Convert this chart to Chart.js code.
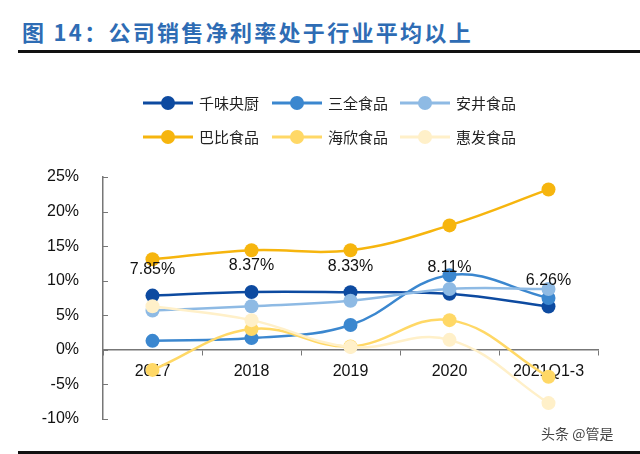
<!DOCTYPE html>
<html><head><meta charset="utf-8">
<script src="https://cdn.jsdelivr.net/npm/chart.js@4"></script>
<style>
html,body{margin:0;padding:0;background:#fff;}
#wrap{position:relative;width:640px;height:454px;overflow:hidden;background:#fff;}
#title{position:absolute;left:22px;top:16px;font:bold 22px "Noto Sans CJK SC";letter-spacing:2.3px;color:#2E6CB4;white-space:nowrap;line-height:30px;}
#rule{position:absolute;left:18px;right:0;top:50px;height:3px;background:#111;}
#bottom{position:absolute;left:18px;right:0;top:451px;height:3px;background:#111;}
#wm{position:absolute;left:541px;top:423px;font:14px "Noto Sans CJK SC";color:#444;white-space:nowrap;}
canvas{position:absolute;left:0;top:0;}
</style></head>
<body>
<div id="wrap">
<div id="title">图 14：公司销售净利率处于行业平均以上</div>
<div id="rule"></div>
<canvas id="c" width="640" height="454"></canvas>
<div id="wm">头条 @管是</div>
<div id="bottom"></div>
</div>
<script>
const categories = ['2017', '2018', '2019', '2020', '2021Q1-3'];
const seriesNames = ['千味央厨', '三全食品', '安井食品', '巴比食品', '海欣食品', '惠发食品'];
const qianwei = [7.85, 8.37, 8.33, 8.11, 6.26];
const sanquan = [1.3, 1.7, 3.6, 10.8, 7.5];
const anjing = [5.7, 6.3, 7.1, 8.8, 8.8];
const babi = [13.1, 14.4, 14.4, 18.0, 23.2];
const haixin = [-2.9, 3.0, 0.5, 4.3, -3.9];
const huifa = [6.3, 4.3, 0.4, 1.45, -7.7];
const yTicks = [-10, -5, 0, 5, 10, 15, 20, 25];

const seriesData = [qianwei, sanquan, anjing, babi, haixin, huifa];
const colors = ['#0D4AA0', '#3B87CF', '#8EBAE4', '#F6B50E', '#FFD866', '#FFF0C9'];

const numFont = '"Liberation Sans", Arial, sans-serif';

const datasets = seriesData.map((d, i) => ({
  label: seriesNames[i],
  data: d,
  borderColor: colors[i],
  backgroundColor: colors[i],
  pointBackgroundColor: colors[i],
  pointBorderWidth: 0,
  pointRadius: 7,
  pointHoverRadius: 7,
  borderWidth: 2.5,
  tension: 0.4,
  order: 5 - i,
  clip: false
}));

const extras = {
  id: 'extras',
  afterDatasetsDraw(chart) {
    const ctx = chart.ctx;
    const meta = chart.getDatasetMeta(0);
    ctx.save();
    ctx.font = '16px ' + numFont;
    ctx.fillStyle = '#111';
    ctx.textAlign = 'center';
    ctx.textBaseline = 'middle';
    meta.data.forEach((pt, i) => {
      ctx.fillText(qianwei[i].toFixed(2) + '%', pt.x, pt.y - 26);
    });
    ctx.restore();
  },
  afterDraw(chart) {
    const ctx = chart.ctx;
    const ys = chart.scales.y;
    const left = chart.chartArea.left;
    ctx.save();
    ctx.strokeStyle = '#777';
    ctx.lineWidth = 1;
    yTicks.forEach(v => {
      const py = Math.round(ys.getPixelForValue(v)) + 0.5;
      ctx.beginPath();
      ctx.moveTo(left, py);
      ctx.lineTo(left + 5, py);
      ctx.stroke();
    });
    // legend
    const colX = [143, 272, 400];
    const rowY = [103, 137];
    ctx.font = '15px "Noto Sans CJK SC"';
    ctx.textBaseline = 'middle';
    ctx.textAlign = 'left';
    seriesNames.forEach((name, i) => {
      const x = colX[i % 3];
      const y = rowY[Math.floor(i / 3)];
      ctx.strokeStyle = colors[i];
      ctx.lineWidth = 3;
      ctx.beginPath();
      ctx.moveTo(x, y);
      ctx.lineTo(x + 50, y);
      ctx.stroke();
      ctx.fillStyle = colors[i];
      ctx.beginPath();
      ctx.arc(x + 25, y, 7, 0, Math.PI * 2);
      ctx.fill();
      ctx.fillStyle = '#222';
      ctx.fillText(name, x + 56, y);
    });
    ctx.restore();
  }
};

new Chart(document.getElementById('c'), {
  type: 'line',
  data: { labels: categories, datasets },
  options: {
    responsive: false,
    animation: false,
    devicePixelRatio: 1,
    layout: { padding: { top: 177, left: 0, right: 42, bottom: 35 } },
    plugins: { legend: { display: false }, tooltip: { enabled: false } },
    scales: {
      x: {
        type: 'category',
        offset: true,
        position: { y: 0 },
        grid: { display: true, drawOnChartArea: false, drawTicks: true, tickLength: 5, color: '#777', lineWidth: 1, offset: true },
        border: { display: true, color: '#777', width: 1.5 },
        ticks: { font: { family: numFont, size: 16 }, color: '#111', padding: 7, maxRotation: 0 }
      },
      y: {
        min: -10,
        max: 25,
        afterBuildTicks: (s) => { s.ticks = yTicks.map(v => ({ value: v })); },
        afterFit: (s) => { s.width = 103; },
        grid: { display: false },
        border: { display: true, color: '#777', width: 1.5 },
        ticks: { font: { family: numFont, size: 16 }, color: '#111', padding: 16, callback: (v) => v + '%' }
      }
    }
  },
  plugins: [extras]
});
</script>
</body></html>
